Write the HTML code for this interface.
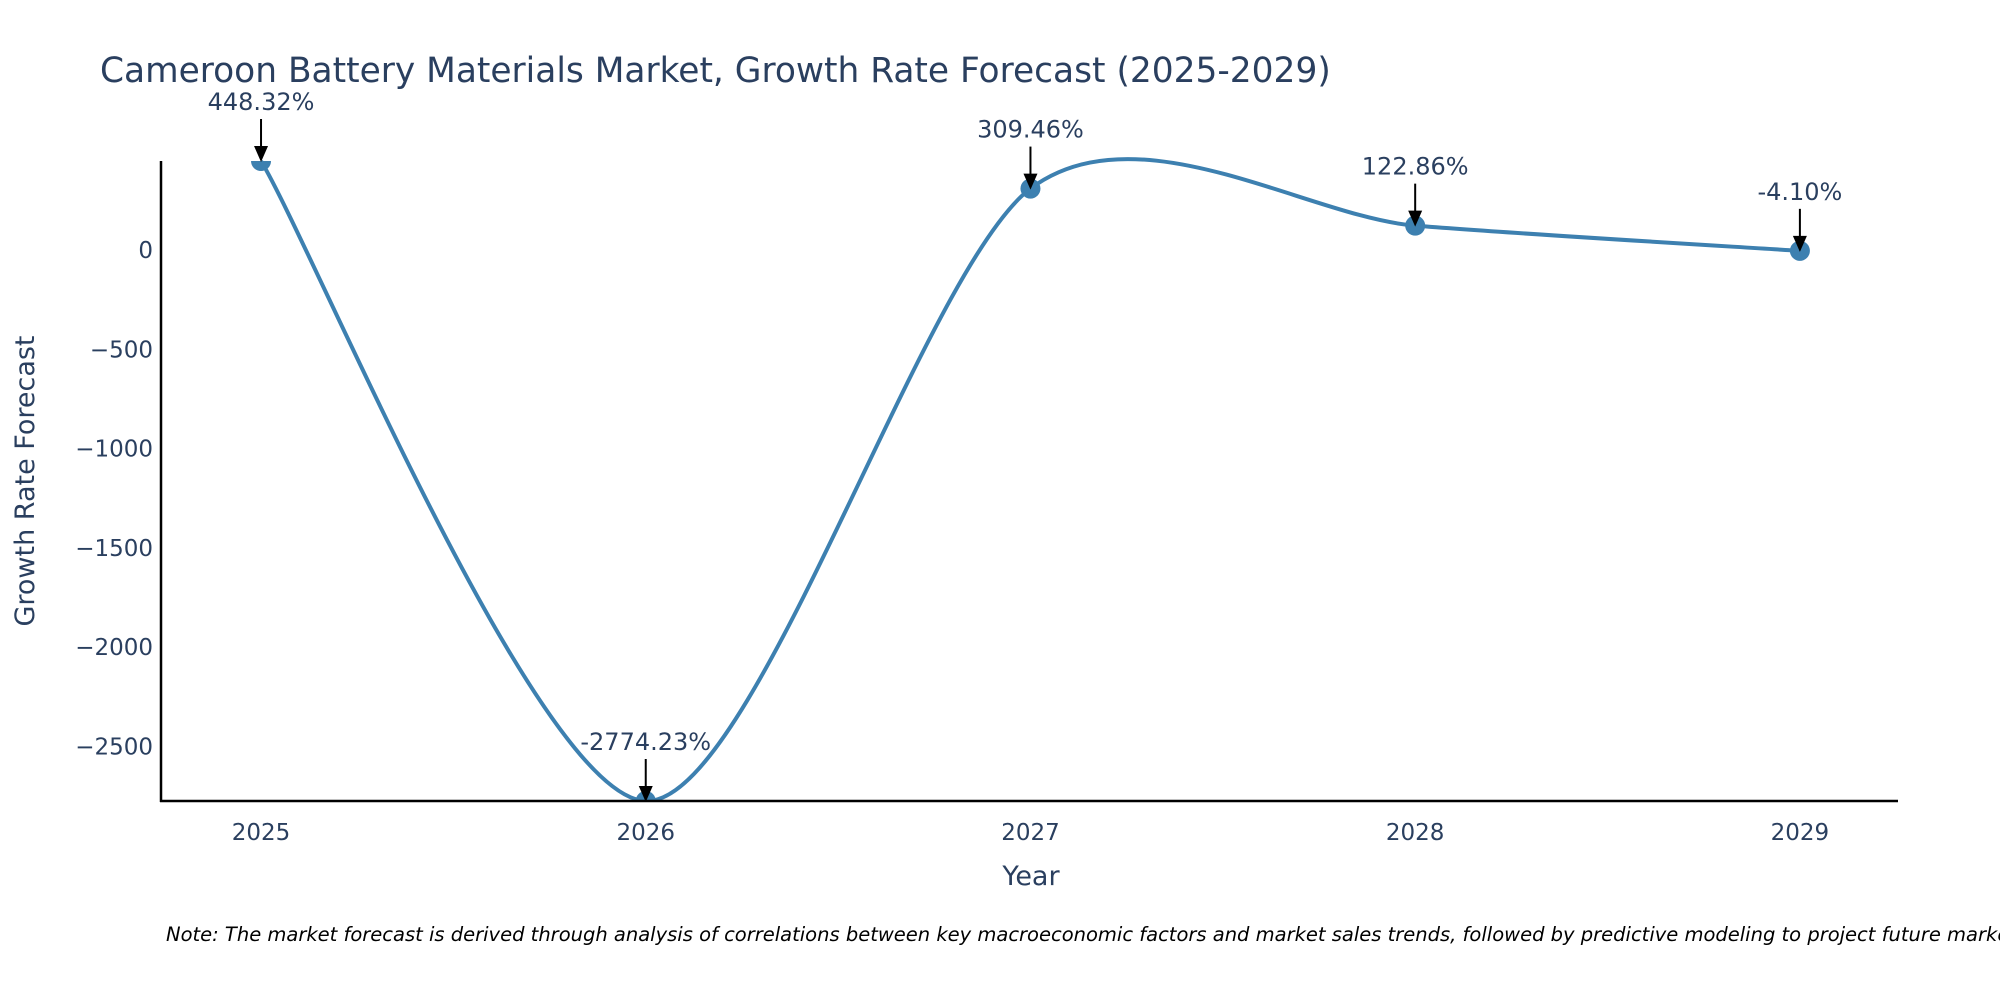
<!DOCTYPE html>
<html><head><meta charset="utf-8"><style>
body{margin:0;background:#fff}
svg{display:block;font-family:"DejaVu Sans","Liberation Sans",sans-serif}
</style></head><body>
<svg id="chart" width="2000" height="1000" viewBox="0 0 2000 1000">
<text x="100" y="82" font-size="34.4" fill="#2a3f5f">Cameroon Battery Materials Market, Growth Rate Forecast (2025-2029)</text>
<g id="plot"></g>
<text x="1031" y="885" font-size="27" fill="#2a3f5f" text-anchor="middle">Year</text>
<text transform="translate(34,481) rotate(-90)" font-size="27" fill="#2a3f5f" text-anchor="middle">Growth Rate Forecast</text>
<text x="166" y="941" font-size="19.5" font-style="italic" fill="#000">Note: The market forecast is derived through analysis of correlations between key macroeconomic factors and market sales trends, followed by predictive modeling to project future market growth.</text>
</svg>
<script>
const years = [2025, 2026, 2027, 2028, 2029];
const values = [448.32, -2774.23, 309.46, 122.86, -4.10];
const labels = ["448.32%", "-2774.23%", "309.46%", "122.86%", "-4.10%"];
const yTicks = [0, -500, -1000, -1500, -2000, -2500];

const NS = "http://www.w3.org/2000/svg";
const g = document.getElementById("plot");
const L = 161, R = 1898, T = 161, B = 801;
const xMin = 2024.74, xMax = 2029.255;
const yMax = Math.max(...values), yMin = Math.min(...values);
const xs = v => L + (v - xMin) / (xMax - xMin) * (R - L);
const ys = v => T + (yMax - v) / (yMax - yMin) * (B - T);
function mk(tag, attrs) { const e = document.createElementNS(NS, tag); for (const k in attrs) e.setAttribute(k, attrs[k]); g.appendChild(e); return e; }

const clip = mk("clipPath", {id: "clp"});
const cr = document.createElementNS(NS, "rect");
cr.setAttribute("x", L); cr.setAttribute("y", T); cr.setAttribute("width", R - L); cr.setAttribute("height", B - T);
clip.appendChild(cr);
const clip2 = mk("clipPath", {id: "clp2"});
const cr2 = document.createElementNS(NS, "rect");
cr2.setAttribute("x", L); cr2.setAttribute("y", T - 60); cr2.setAttribute("width", R - L); cr2.setAttribute("height", B - T + 60);
clip2.appendChild(cr2);

yTicks.forEach(t => {
  const e = mk("text", {x: L - 8, y: ys(t) + 8, "font-size": 23, fill: "#2a3f5f", "text-anchor": "end"});
  e.textContent = t < 0 ? "\u2212" + Math.abs(t) : String(t);
  
  
});
years.forEach(y => {
  const e = mk("text", {x: xs(y), y: B + 39, "font-size": 23, fill: "#2a3f5f", "text-anchor": "middle"});
  e.textContent = y;
  
  
});

const pts = years.map((y, i) => [xs(y), ys(values[i])]);
let d = "M" + pts[0][0] + "," + pts[0][1];
for (let i = 0; i < pts.length - 1; i++) {
  const p0 = pts[Math.max(i - 1, 0)], p1 = pts[i], p2 = pts[i + 1], p3 = pts[Math.min(i + 2, pts.length - 1)];
  const k = 0.14;
  const c1 = [p1[0] + (p2[0] - p0[0]) * k, p1[1] + (p2[1] - p0[1]) * k];
  const c2 = [p2[0] - (p3[0] - p1[0]) * k, p2[1] - (p3[1] - p1[1]) * k];
  d += " C" + c1 + " " + c2 + " " + p2;
}
const line = mk("path", {d: d, fill: "none", stroke: "#3d80b0", "stroke-width": 4, "clip-path": "url(#clp2)"});



pts.forEach((p, i) => {
  const c = mk("circle", {cx: p[0], cy: p[1], r: 10, fill: "#3d80b0", "clip-path": "url(#clp)"});
  
  
  const a = mk("line", {x1: p[0], y1: p[1] - 42, x2: p[0], y2: p[1] - 14, stroke: "#000", "stroke-width": 2});
  
  
  const h = mk("polygon", {points: (p[0] - 7) + "," + (p[1] - 15) + " " + (p[0] + 7) + "," + (p[1] - 15) + " " + p[0] + "," + (p[1] + 1), fill: "#000"});
  
  
  const t = mk("text", {x: p[0], y: p[1] - 51, "font-size": 24, fill: "#2a3f5f", "text-anchor": "middle"});
  t.textContent = labels[i];
  
  
});

const ya = mk("line", {x1: L, y1: T, x2: L, y2: B + 1, stroke: "#000", "stroke-width": 2.5});


const xa = mk("line", {x1: L - 1, y1: B, x2: R, y2: B, stroke: "#000", "stroke-width": 2.5});


</script>
</body></html>
